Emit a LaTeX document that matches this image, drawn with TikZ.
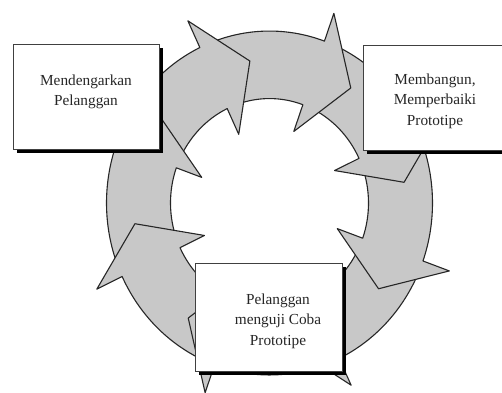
\documentclass[tikz,border=0pt]{standalone}
\usepackage{fontspec}
\setmainfont{Liberation Serif}
\usetikzlibrary{shadows}
\definecolor{ringgray}{RGB}{200,200,200}
\tikzset{
  ringpart/.style={fill=ringgray, draw=black!85, line width=1.1pt, line join=round},
  boxshape/.style={rectangle, draw=black!75, fill=white, line width=0.9pt, inner sep=0pt, outer sep=0pt,
    general shadow={fill=black, shadow xshift=4pt, shadow yshift=-4pt}},
  boxtext/.style={align=center, text=black!85, font=\fontsize{15.3}{20.5}\selectfont, inner sep=0pt}
}
\begin{document}
\begin{tikzpicture}[x=1pt,y=1pt]
\useasboundingbox (-269.5,-189) rectangle (232.5,203);
\clip (-269.5,-189) rectangle (232.5,203);
% ring of clockwise arrows
\begin{scope}[yscale=1.055]
\foreach \w in {-64.7,-19.7,25.3,70.3,115.3,160.3,205.3,250.3}{
  \pgfmathsetmacro\ta{\w+41}
  \pgfmathsetmacro\pa{\w-17}
  \filldraw[ringpart] (\ta:163) arc[start angle=\ta, end angle=\w, radius=163]
     -- (\w:191) -- (\pa:136) -- (\w:72) -- (\w:99)
     arc[start angle=\w, end angle=\ta, radius=99] -- cycle;
}
\end{scope}
% boxes
\node[boxshape, minimum width=146pt, minimum height=105pt] (listen) at (-183.5,106.5) {};
\node[boxshape, minimum width=157pt, minimum height=105pt] (build) at (172,105.5) {};
\node[boxshape, minimum width=147pt, minimum height=108pt] (test) at (-1,-114) {};
% texts
\node[boxtext] (tlisten) at (-183.5,111) {Mendengarkan\\Pelanggan};
\node[boxtext] (tbuild) at (165.5,102) {Membangun,\\Memperbaiki\\Prototipe};
\node[boxtext] (ttest) at (8.5,-118) {Pelanggan\\menguji Coba\\Prototipe};
\end{tikzpicture}
\end{document}
